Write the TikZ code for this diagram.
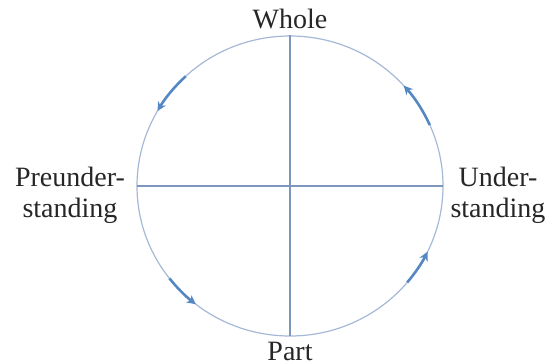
\documentclass[tikz,border=0pt]{standalone}
\usepackage{fontspec}
\setmainfont{Liberation Serif}
\usetikzlibrary{arrows.meta}
\definecolor{circ}{RGB}{165,185,215}
\definecolor{axis}{RGB}{125,150,190}
\definecolor{arr}{RGB}{85,135,195}
\tikzset{
  lbl/.style={font=\fontsize{28}{31}\selectfont, align=center, text=black!85},
  axisline/.style={draw=axis, line width=1.6pt},
  flow/.style={draw=arr, line width=2.6pt, -{Stealth[length=9pt,width=9pt]}},
}
\begin{document}
\begin{tikzpicture}[x=1pt,y=-1pt]
\useasboundingbox (0,0) rectangle (551,362);
\coordinate (c) at (290,186);
\draw[circ, line width=1.2pt] (c) ellipse [x radius=153, y radius=150];
\coordinate (t) at (290,35);
\coordinate (b) at (290,336);
\coordinate (l) at (137,186);
\coordinate (r) at (443,186);
\draw[axisline] (t) -- (b);
\draw[axisline] (l) -- (r);
% arrows along the circle (angles measured with y downward => negate)
\draw[flow] ([shift={(-133:153 and 150)}]c) arc[start angle=-133, end angle=-150, x radius=153, y radius=150];
\draw[flow] ([shift={(-24:153 and 150)}]c) arc[start angle=-24, end angle=-42, x radius=153, y radius=150];
\draw[flow] ([shift={(-218:153 and 150)}]c) arc[start angle=-218, end angle=-232, x radius=153, y radius=150];
\draw[flow] ([shift={(40:153 and 150)}]c) arc[start angle=40, end angle=26, x radius=153, y radius=150];
\node[lbl] (whole) at (290,19) {Whole};
\node[lbl] (part) at (290,351) {Part};
\node[lbl] (pre) at (70,195) {Preunder-\\standing};
\node[lbl] (und) at (498,195) {Under-\\standing};
\end{tikzpicture}
\end{document}
